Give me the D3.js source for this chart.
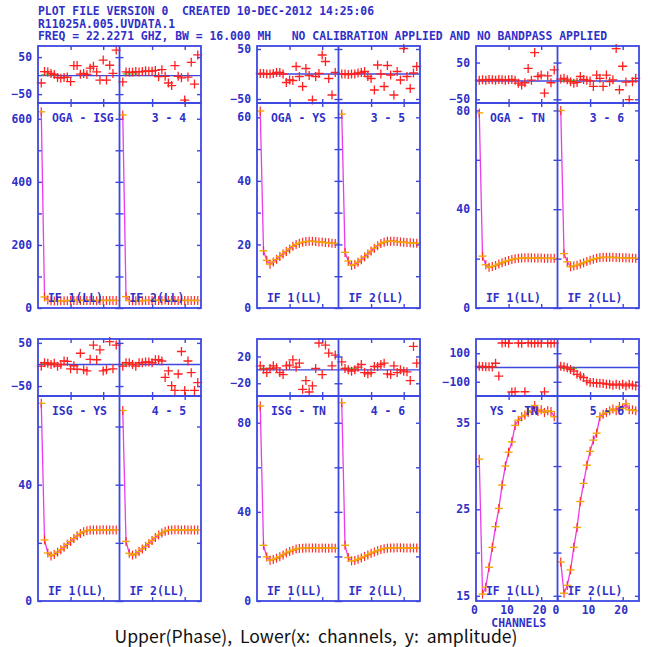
<!DOCTYPE html>
<html>
<head>
<meta charset="utf-8">
<script src="https://cdn.jsdelivr.net/npm/d3@7"></script>
<style>
body { margin: 0; background: #fff; }
svg { display: block; }
</style>
</head>
<body>
<div id="plot"></div>
<script>
// ---------------- data ----------------
var channels = [1, 2, 3, 4, 5, 6, 7, 8, 9, 10, 11, 12, 13, 14, 15, 16, 17, 18, 19, 20, 21, 22, 23, 24];

var headerLines = [
  "PLOT FILE VERSION 0  CREATED 10-DEC-2012 14:25:06",
  "R11025A.005.UVDATA.1",
  "FREQ = 22.2271 GHZ, BW = 16.000 MH   NO CALIBRATION APPLIED AND NO BANDPASS APPLIED"
];
var caption = "Upper(Phase),  Lower(x:  channels,  y:  amplitude)";

var pairNames = ["OGA - ISG", "OGA - YS", "OGA - TN", "ISG - YS", "ISG - TN", "YS - TN"];
var pairNums = ["3 - 4", "3 - 5", "3 - 6", "4 - 5", "4 - 6", "5 - 6"];
var ifLabels = ["IF 1(LL)", "IF 2(LL)"];

// amplitude per baseline, IF1 / IF2
var amp_3_4_if1 = [622, 35, 25, 23, 22, 22, 23, 23, 23, 24, 24, 24, 24, 24, 24, 24, 24, 23, 24, 24, 24, 24, 24, 24];
var amp_3_4_if2 = [612, 36, 24, 23, 23, 23, 23, 24, 24, 24, 24, 24, 24, 25, 24, 24, 24, 24, 24, 24, 24, 24, 24, 24];
var amp_3_5_if1 = [62, 18, 15, 13.8, 14.5, 15.3, 16.2, 17, 17.8, 18.6, 19.4, 20, 20.4, 20.7, 20.9, 21, 21, 20.9, 20.8, 20.8, 20.6, 20.5, 20.4, 20.3];
var amp_3_5_if2 = [61, 17.5, 14.8, 13.4, 13.7, 14.4, 15.2, 16.1, 17, 17.9, 18.8, 19.6, 20.3, 20.7, 21, 21, 21, 20.9, 20.8, 20.7, 20.6, 20.5, 20.4, 20.4];
var amp_3_6_if1 = [79, 21, 17.5, 16.5, 16.8, 17.2, 17.8, 18.3, 18.8, 19.2, 19.6, 19.9, 20.1, 20.2, 20.3, 20.3, 20.3, 20.2, 20.2, 20.2, 20.1, 20.1, 20.1, 20.1];
var amp_3_6_if2 = [80, 22, 18.7, 16.7, 17, 17.3, 17.8, 18.3, 18.8, 19.3, 19.7, 20.1, 20.4, 20.5, 20.5, 20.5, 20.5, 20.4, 20.4, 20.3, 20.3, 20.2, 20.2, 20.1];
var amp_4_5_if1 = [68, 21, 16.5, 15.5, 16, 16.8, 17.6, 18.5, 19.5, 20.5, 21.5, 22.4, 23.2, 23.8, 24.2, 24.4, 24.4, 24.4, 24.4, 24.5, 24.4, 24.4, 24.4, 24.4];
var amp_4_5_if2 = [65.5, 20.5, 16.4, 15.8, 16.2, 17, 17.9, 18.8, 19.8, 20.8, 21.8, 22.7, 23.4, 24, 24.3, 24.4, 24.5, 24.5, 24.4, 24.5, 24.4, 24.4, 24.4, 24.4];
var amp_4_6_if1 = [87.5, 25, 19.8, 18.3, 18.6, 19.2, 19.9, 20.7, 21.5, 22.2, 22.8, 23.3, 23.6, 23.7, 23.8, 23.8, 23.8, 23.8, 23.7, 23.8, 23.7, 23.7, 23.8, 23.7];
var amp_4_6_if2 = [89, 25, 19.5, 18, 18.2, 18.7, 19.3, 20, 20.7, 21.4, 22, 22.6, 23.1, 23.5, 23.7, 23.8, 23.8, 23.9, 23.9, 23.8, 23.8, 23.8, 23.8, 23.8];
var amp_5_6_if1 = [30.8, 15.2, 16.0, 18.3, 20.6, 23.0, 25.1, 27.8, 30.0, 31.6, 32.8, 34.7, 35.3, 35.7, 35.9, 36.2, 36.4, 37.0, 36.3, 36.5, 36.2, 36.4, 36.3, 35.7];
var amp_5_6_if2 = [18.9, 15.3, 16.2, 18.0, 20.6, 22.9, 25.9, 28.0, 30.1, 31.7, 33.0, 33.8, 35.7, 36.0, 36.2, 36.4, 36.6, 36.4, 36.9, 36.7, 37.2, 36.5, 36.5, 36.4];

// phase (degrees) per baseline, IF1 / IF2
var phs_3_4_if1 = [-20, 11, 10, 6, 3, -5, -7, -5, -4, -16, 27, 27, 4, 6, 3, 20, 25, 10, -12, 42, -12, 28, 6, 69];
var phs_3_4_if2 = [-17, 10, 9, 9, 11, 10, 11, 13, 12, 12, 14, -3, 16, -2, -20, -27, 27, -2, -6, -66, -4, 36, -23, 56];
var phs_3_5_if1 = [1, 1, 0, 0, 1, 3, 3, 0, -17, -12, -13, 15, -5, -25, 11, -3, -52, -5, 1, 38, 25, -9, -42, 3];
var phs_3_5_if2 = [0, 0, -1, 0, 0, 2, 3, 5, -5, -9, -32, 18, 0, -25, 17, -2, -42, 5, -12, 51, -5, -29, 2, 15];
var phs_3_6_if1 = [2, 3, 2, 4, 3, 2, 4, 3, 2, 3, 4, 2, -6, -11, -5, 34, 2, 77, 12, 16, -33, 14, -5, 30];
var phs_3_6_if2 = [5, 7, 3, -2, -6, -4, 12, 4, 2, 0, -15, 16, 7, -15, 16, -2, 3, 88, -24, 40, -3, -51, -2, 7];
var phs_4_5_if1 = [-4, 4, 3, 0, 3, -4, 0, 8, 7, -10, -3, -11, 26, -12, -15, 12, 45, 11, 34, -15, -12, 53, -10, 45];
var phs_4_5_if2 = [-4, 4, 4, 0, -4, 4, 4, 6, 6, 4, 11, 11, 8, -30, -15, -49, -60, -22, 30, -60, 8, -19, -60, -42];
var phs_4_6_if1 = [6, 1, -4, 2, 6, 3, -4, -7, 6, 7, 15, 4, 10, -29, -16, -33, -24, 2, 40, -7, 37, 25, 6, 22];
var phs_4_6_if2 = [12, 2, 0, -2, 0, 4, 8, -4, -6, -4, 5, 5, 8, 10, -6, -7, 6, -4, 0, -2, -3, -16, 35, 10];
var phs_5_6_if1 = [8, 7, 5, 6, 4, 30, -60, 172, 175, 170, -172, -170, 172, 170, -170, 174, 172, 170, 173, 171, -171, 172, 170, 172];
var phs_5_6_if2 = [9, 5, -2, -14, -25, -48, -60, -71, -94, -106, -106, -110, -110, -112, -117, -117, -124, -117, -124, -117, -129, -117, -124, -129];

var ampSeries = [[amp_3_4_if1, amp_3_4_if2], [amp_3_5_if1, amp_3_5_if2], [amp_3_6_if1, amp_3_6_if2],
                 [amp_4_5_if1, amp_4_5_if2], [amp_4_6_if1, amp_4_6_if2], [amp_5_6_if1, amp_5_6_if2]];
var phsSeries = [[phs_3_4_if1, phs_3_4_if2], [phs_3_5_if1, phs_3_5_if2], [phs_3_6_if1, phs_3_6_if2],
                 [phs_4_5_if1, phs_4_5_if2], [phs_4_6_if1, phs_4_6_if2], [phs_5_6_if1, phs_5_6_if2]];

// axis ranges and ticks
var phaseDomains = [[-74, 80], [-58, 56], [-60, 95], [-73, 59], [-39, 46], [-200, 200]];
var ampDomains = [[0, 650], [0, 64.5], [0, 83], [0, 70.5], [0, 92], [14.4, 38.1]];
var phaseTicks = [[-50, 50], [-50, 50], [-50, 50], [-50, 50], [-20, 20], [-100, 100]];
var ampTicks = [[0, 100, 200, 300, 400, 500, 600], [0, 10, 20, 30, 40, 50, 60], [0, 20, 40, 60, 80],
                [0, 20, 40, 60], [0, 20, 40, 60, 80], [15, 20, 25, 30, 35]];
var ampLabels = [[0, 200, 400, 600], [0, 20, 40, 60], [0, 40, 80], [0, 40], [0, 40, 80], [15, 25, 35]];
var channelDomain = [0, 25];
var channelTicks = [10, 20];
var channelLabels = [0, 10, 20];

// ---------------- layout ----------------
var W = 650, H = 647;
var colX = [38, 257, 476], rowY = [46, 339];
var subW = 81.5, phaseH = 57, ampH = 205;
var lineBlue = "#3d48e0", textBlue = "#3030c8";
var mono = "'DejaVu Sans Mono', monospace";
var fs = 11.4;

var svg = d3.select("#plot").append("svg")
  .attr("width", W)
  .attr("height", H);

// header
svg.append("g").selectAll("text")
  .data(headerLines)
  .enter().append("text")
  .attr("x", 38)
  .attr("y", function(d, i) { return 15 + i * 12.5; })
  .attr("fill", textBlue)
  .attr("font-family", mono)
  .attr("font-size", fs)
  .attr("font-weight", "bold")
  .attr("xml:space", "preserve")
  .style("white-space", "pre")
  .text(function(d) { return d; });

function styleAxis(g) {
  g.select(".domain").remove();
  g.selectAll(".tick line").attr("stroke", lineBlue).attr("stroke-width", 1.4);
  g.selectAll(".tick text")
    .attr("fill", textBlue)
    .attr("font-family", mono)
    .attr("font-size", fs)
    .attr("font-weight", "bold");
}

var lineAmp = d3.line();

pairNames.forEach(function(name, p) {
  var col = p % 3, row = Math.floor(p / 3);
  var x0 = colX[col], y0 = rowY[row];
  var yP = d3.scaleLinear().domain(phaseDomains[p]).range([y0 + phaseH, y0]);
  var yA = d3.scaleLinear().domain(ampDomains[p]).range([y0 + phaseH + ampH, y0 + phaseH]);
  var g = svg.append("g");

  // y axes: left with labels, middle both sides, right inward
  var labs = ampLabels[p];
  g.append("g")
    .attr("transform", "translate(" + x0 + ",0)")
    .call(d3.axisLeft(yA).tickValues(ampTicks[p]).tickSize(-4).tickPadding(6)
      .tickFormat(function(d) { return labs.indexOf(d) >= 0 ? d : ""; }))
    .call(styleAxis);
  g.append("g")
    .attr("transform", "translate(" + x0 + ",0)")
    .call(d3.axisLeft(yP).tickValues(phaseTicks[p]).tickSize(-4).tickPadding(6))
    .call(styleAxis);
  [x0 + subW, x0 + 2 * subW].forEach(function(xb, j) {
    g.append("g")
      .attr("transform", "translate(" + xb + ",0)")
      .call(d3.axisLeft(yA).tickValues(ampTicks[p]).tickSize(4).tickFormat(""))
      .call(styleAxis)
      .selectAll(".tick line").attr("x1", j === 0 ? 4 : 0);
    g.append("g")
      .attr("transform", "translate(" + xb + ",0)")
      .call(d3.axisLeft(yP).tickValues(phaseTicks[p]).tickSize(4).tickFormat(""))
      .call(styleAxis)
      .selectAll(".tick line").attr("x1", j === 0 ? 4 : 0);
  });

  [0, 1].forEach(function(k) {
    var xs = d3.scaleLinear().domain(channelDomain).range([x0 + k * subW, x0 + (k + 1) * subW]);
    var last = (p === 5);

    // x ticks on every horizontal border
    [y0, y0 + phaseH].forEach(function(yb) {
      g.append("g").attr("transform", "translate(0," + yb + ")")
        .call(d3.axisTop(xs).tickValues(channelTicks).tickSize(-4).tickFormat(""))
        .call(styleAxis);
    });
    [y0 + phaseH, y0 + phaseH + ampH].forEach(function(yb, j) {
      var ax = d3.axisBottom(xs).tickValues(channelTicks).tickSize(-4).tickFormat("");
      if (last && j === 1) ax = d3.axisBottom(xs).tickValues(channelLabels).tickSize(-4).tickPadding(5);
      var axg = g.append("g").attr("transform", "translate(0," + yb + ")")
        .call(ax)
        .call(styleAxis);
      if (last && j === 1) axg.selectAll(".tick text").attr("dx", -2);
    });

    var amp = ampSeries[p][k], phs = phsSeries[p][k];

    // phase zero line
    g.append("line")
      .attr("x1", xs.range()[0]).attr("x2", xs.range()[1])
      .attr("y1", yP(0)).attr("y2", yP(0))
      .attr("stroke", lineBlue).attr("stroke-width", 1.4);

    // green model segment over first channels
    var m = d3.mean(phs.slice(0, 5));
    g.append("line")
      .attr("x1", xs(channels[0])).attr("x2", xs(channels[5]))
      .attr("y1", yP(m)).attr("y2", yP(m))
      .attr("stroke", "#3cc83c").attr("stroke-width", 1.3);

    // phase markers
    g.append("g").selectAll("path")
      .data(phs)
      .enter().append("path")
      .attr("transform", function(d, i) { return "translate(" + xs(channels[i]) + "," + yP(d) + ")"; })
      .attr("d", "M-4.5,0H4.5M0,-4.5V4.5")
      .attr("stroke", "#ff2020").attr("stroke-width", 1.3).attr("fill", "none");

    // amplitude line
    g.append("path")
      .datum(amp)
      .attr("d", lineAmp.x(function(d, i) { return xs(channels[i]); }).y(function(d) { return yA(d); }))
      .attr("fill", "none")
      .attr("stroke", "#ea3cea")
      .attr("stroke-width", 1.3);

    var mk = g.append("g").selectAll("g")
      .data(amp)
      .enter().append("g")
      .attr("transform", function(d, i) { return "translate(" + xs(channels[i]) + "," + yA(d) + ")"; });
    mk.append("path").attr("d", "M0,-4.5V4.5").attr("stroke", "#ff2a2a").attr("stroke-width", 1.2);
    mk.append("path").attr("d", "M-4,0H4").attr("stroke", "#f5a800").attr("stroke-width", 1.4);

    // IF labels
    g.append("text")
      .attr("x", xs.range()[0] + 10)
      .attr("y", y0 + phaseH + ampH - 6)
      .attr("fill", textBlue).attr("font-family", mono).attr("font-size", fs).attr("font-weight", "bold")
      .attr("xml:space", "preserve")
      .text(ifLabels[k]);
  });

  // frames
  g.append("rect")
    .attr("x", x0).attr("y", y0).attr("width", 2 * subW).attr("height", phaseH)
    .attr("fill", "none").attr("stroke", lineBlue).attr("stroke-width", 1.8);
  g.append("rect")
    .attr("x", x0).attr("y", y0 + phaseH).attr("width", 2 * subW).attr("height", ampH)
    .attr("fill", "none").attr("stroke", lineBlue).attr("stroke-width", 1.8);
  g.append("line")
    .attr("x1", x0 + subW).attr("x2", x0 + subW)
    .attr("y1", y0).attr("y2", y0 + phaseH + ampH)
    .attr("stroke", lineBlue).attr("stroke-width", 1.8);

  // baseline labels
  g.append("text")
    .attr("x", x0 + 14).attr("y", y0 + phaseH + 19)
    .attr("fill", textBlue).attr("font-family", mono).attr("font-size", fs).attr("font-weight", "bold")
    .attr("xml:space", "preserve")
    .text(name);
  g.append("text")
    .attr("x", x0 + 2 * subW - 15).attr("y", y0 + phaseH + 19)
    .attr("text-anchor", "end")
    .attr("fill", textBlue).attr("font-family", mono).attr("font-size", fs).attr("font-weight", "bold")
    .attr("xml:space", "preserve")
    .text(pairNums[p]);

  if (p === 5) {
    g.append("text")
      .attr("x", x0 + subW / 2 + 2).attr("y", y0 + phaseH + ampH + 26)
      .attr("text-anchor", "middle")
      .attr("fill", textBlue).attr("font-family", mono).attr("font-size", fs).attr("font-weight", "bold")
      .text("CHANNELS");
  }
});

svg.append("text")
  .attr("x", 316).attr("y", 643)
  .attr("text-anchor", "middle")
  .attr("font-family", "'Noto Sans CJK KR', 'Noto Sans', sans-serif")
  .attr("font-size", 17.6)
  .attr("fill", "#111")
  .attr("xml:space", "preserve")
  .style("white-space", "pre")
  .text(caption);
</script>
</body>
</html>
